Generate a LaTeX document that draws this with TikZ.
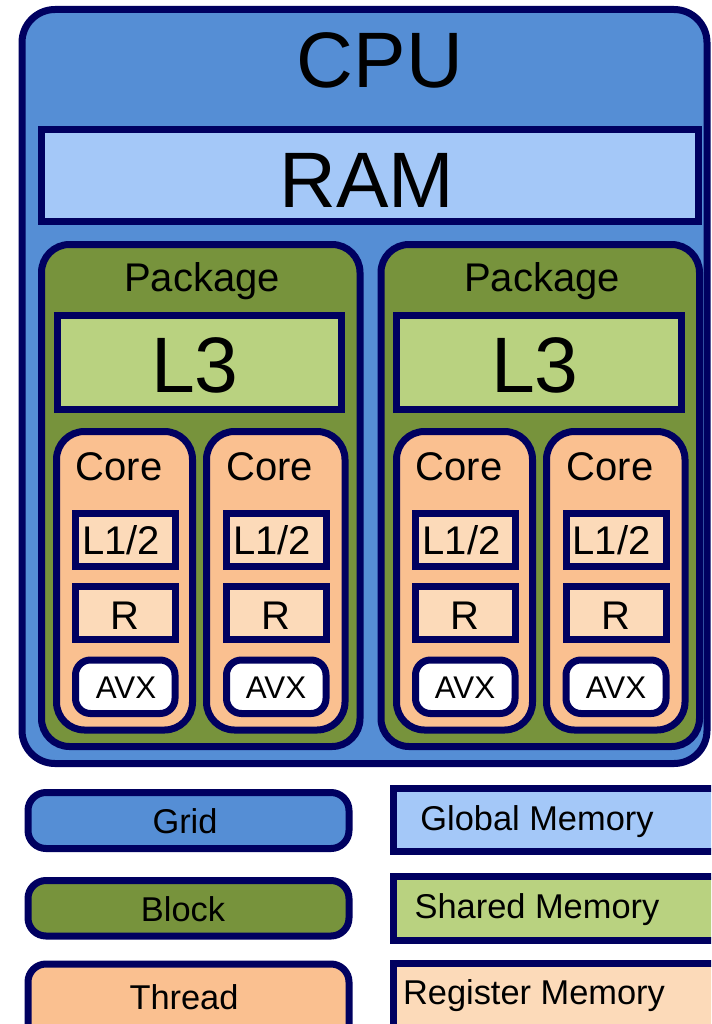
\documentclass[tikz,border=0pt]{standalone}
\usepackage{fontspec}
\setmainfont{Liberation Sans}

\definecolor{edgeNavy}{RGB}{0,0,96}
\definecolor{gridBlue}{RGB}{85,142,213}
\definecolor{globalBlue}{RGB}{164,200,248}
\definecolor{blockGreen}{RGB}{119,147,60}
\definecolor{sharedGreen}{RGB}{185,210,128}
\definecolor{threadPeach}{RGB}{250,192,144}
\definecolor{regPeach}{RGB}{252,218,185}

\tikzset{every picture/.style={line width=5.25pt}}
\tikzset{
  gridbox/.style={draw=edgeNavy, fill=gridBlue, rounded corners=24.75pt},
  blockbox/.style={draw=edgeNavy, fill=blockGreen, rounded corners=21pt},
  threadbox/.style={draw=edgeNavy, fill=threadPeach, rounded corners=21pt},
  globalbox/.style={draw=edgeNavy, fill=globalBlue},
  sharedbox/.style={draw=edgeNavy, fill=sharedGreen},
  regbox/.style={draw=edgeNavy, fill=regPeach},
  avxbox/.style={draw=edgeNavy, fill=white, rounded corners=11.25pt},
  keybox/.style={draw=edgeNavy, rounded corners=13.5pt},
  bigtxt/.style={anchor=base, inner sep=0.75pt, font=\fontsize{59}{60}\selectfont},
  midtxt/.style={anchor=base, inner sep=0.75pt, font=\fontsize{30}{31}\selectfont},
  smalltxt/.style={anchor=base, inner sep=0.75pt, font=\fontsize{23.5}{24}\selectfont},
  keytxt/.style={anchor=base, inner sep=0.75pt, font=\fontsize{25.8}{26}\selectfont}
}

\begin{document}
\begin{tikzpicture}[x=0.75pt,y=0.75pt,yscale=-1]
\clip (0,0) rectangle (711,1024) ;
%Rounded Rect: cpu
\draw [gridbox] (22,9.5) rectangle (707,763.5) ;
%Rect: ram
\draw [globalbox] (41.5,129.5) rectangle (698.5,221) ;
%Rounded Rect: packages
\draw [blockbox] (41.5,244.5) rectangle (360,746.5) ;
\draw [blockbox] (381,244.5) rectangle (699.5,746.5) ;
%Rect: l3
\draw [sharedbox] (57.5,315.5) rectangle (341,409.5) ;
\draw [sharedbox] (396.5,315.5) rectangle (681,409.5) ;
%Rounded Rect: cores
\draw [threadbox] (56.5,431.5) rectangle (192.5,730) ;
\draw [threadbox] (206.5,431.5) rectangle (345,730) ;
\draw [threadbox] (396.5,431.5) rectangle (532.5,730) ;
\draw [threadbox] (546.5,431.5) rectangle (685,730) ;
%Rect: l1/2
\draw [regbox] (75.5,513.5) rectangle (175,566) ;
\draw [regbox] (226.5,513.5) rectangle (326,566) ;
\draw [regbox] (415.5,513.5) rectangle (515,566) ;
\draw [regbox] (566,513.5) rectangle (666,566) ;
%Rect: registers
\draw [regbox] (75.5,586) rectangle (175,639.5) ;
\draw [regbox] (226.5,586) rectangle (326,639.5) ;
\draw [regbox] (415.5,586) rectangle (515,639.5) ;
\draw [regbox] (566,586) rectangle (666,639.5) ;
%Rounded Rect: avx
\draw [avxbox] (75.5,660) rectangle (175,713.5) ;
\draw [avxbox] (226.5,660) rectangle (326,713.5) ;
\draw [avxbox] (415.5,660) rectangle (515,713.5) ;
\draw [avxbox] (566,660) rectangle (666,713.5) ;
%Legend boxes
\draw [keybox, fill=gridBlue] (28,792.5) rectangle (349,848.5) ;
\draw [keybox, fill=blockGreen] (28,880.5) rectangle (349,936) ;
\draw [keybox, fill=threadPeach] (28,964) rectangle (349,1045) ;
\draw [globalbox] (393,788.5) rectangle (730,851) ;
\draw [sharedbox] (393,876.5) rectangle (730,940) ;
\draw [regbox] (393,963.5) rectangle (730,1045) ;
% Text Node
\draw (380,88) node [bigtxt] (cpuLbl) {CPU};
% Text Node
\draw (367,207) node [bigtxt] (ramLbl) {RAM};
% Text Node
\draw (202,291) node [midtxt] (pkgLblA) {Package};
% Text Node
\draw (542,291) node [midtxt] (pkgLblB) {Package};
% Text Node
\draw (195,392) node [bigtxt] (l3LblA) {L3};
% Text Node
\draw (535,392) node [bigtxt] (l3LblB) {L3};
% Text Node
\draw (119,480) node [midtxt] (coreLblA) {Core};
% Text Node
\draw (269.5,480) node [midtxt] (coreLblB) {Core};
% Text Node
\draw (459,480) node [midtxt] (coreLblC) {Core};
% Text Node
\draw (610,480) node [midtxt] (coreLblD) {Core};
% Text Node
\draw (121,554) node [midtxt] (cacheLblA) {L1/2};
% Text Node
\draw (272,554) node [midtxt] (cacheLblB) {L1/2};
% Text Node
\draw (461.5,554) node [midtxt] (cacheLblC) {L1/2};
% Text Node
\draw (611.5,554) node [midtxt] (cacheLblD) {L1/2};
% Text Node
\draw (125,629) node [midtxt] (regLblA) {R};
% Text Node
\draw (276,629) node [midtxt] (regLblB) {R};
% Text Node
\draw (465,629) node [midtxt] (regLblC) {R};
% Text Node
\draw (616,629) node [midtxt] (regLblD) {R};
% Text Node
\draw (126,698) node [smalltxt] (avxLblA) {AVX};
% Text Node
\draw (276,698) node [smalltxt] (avxLblB) {AVX};
% Text Node
\draw (465,698) node [smalltxt] (avxLblC) {AVX};
% Text Node
\draw (616,698) node [smalltxt] (avxLblD) {AVX};
% Text Node
\draw (185,833) node [keytxt] (gridKey) {Grid};
% Text Node
\draw (183,921) node [keytxt] (blockKey) {Block};
% Text Node
\draw (184,1009) node [keytxt] (threadKey) {Thread};
% Text Node
\draw (537,830) node [keytxt] (globalKey) {Global Memory};
% Text Node
\draw (537,918) node [keytxt] (sharedKey) {Shared Memory};
% Text Node
\draw (534,1004) node [keytxt] (regKey) {Register Memory};
\end{tikzpicture}
\end{document}
